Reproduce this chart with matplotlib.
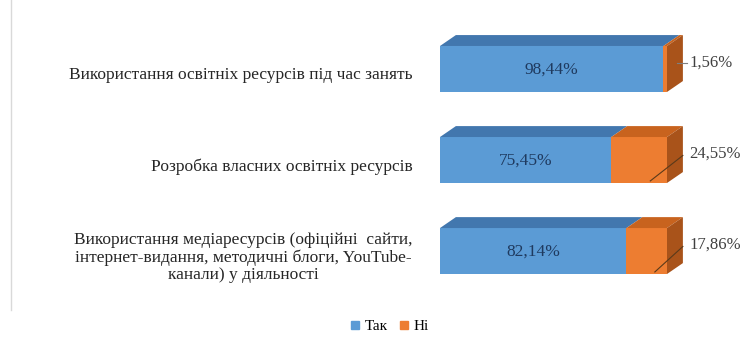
import matplotlib.pyplot as plt
from matplotlib.patches import Patch
from matplotlib.lines import Line2D

# data
categories = [
    'Використання освітніх ресурсів під час занять',
    'Розробка власних освітніх ресурсів',
    'Використання медіаресурсів (офіційні  сайти,\nінтернет-видання, методичні блоги, YouTube-\nканали) у діяльності',
]
tak = [98.44, 75.45, 82.14]
ni = [1.56, 24.55, 17.86]
tak_labels = ['98,44%', '75,45%', '82,14%']
ni_labels = ['1,56%', '24,55%', '17,86%']
series_names = ['Так', 'Ні']

plt.rcParams['font.family'] = ['Liberation Serif', 'DejaVu Serif']

blue_front, blue_top = '#5B9BD5', '#4277AE'
orange_front, orange_top, orange_side = '#ED7D31', '#C8631E', '#A9531A'

fig = plt.figure(figsize=(7.43, 3.49), dpi=100)
W, H = 743, 349
# axes: x 0..100 -> px 440..667, y px 20..300
ax = fig.add_axes([440 / W, 1 - 300 / H, 227 / W, 280 / H])
ax.set_xlim(0, 100)
ax.set_ylim(2.538, -0.538)
ax.axis('off')

h = 0.505   # bar height
dx = 7.0    # depth in x
dy = 0.12   # depth in y


def box(a, b, yc, front, top, side=None):
    yt, yb = yc - h / 2, yc + h / 2
    ax.fill([a, b, b, a], [yt, yt, yb, yb], color=front, lw=0, clip_on=False)
    ax.fill([a, b, b + dx, a + dx], [yt, yt, yt - dy, yt - dy],
            color=top, lw=0, clip_on=False)
    if side is not None:
        ax.fill([b, b + dx, b + dx, b], [yt, yt - dy, yb - dy, yb],
                color=side, lw=0, clip_on=False)


for i, cat in enumerate(categories):
    yc = i
    box(0, tak[i], yc, blue_front, blue_top)
    box(tak[i], tak[i] + ni[i], yc, orange_front, orange_top, orange_side)
    ax.text(tak[i] / 2, yc + 0.01, tak_labels[i], ha='center', va='center',
            fontsize=12.5, color='#1F3A5F', clip_on=False)
    # leader line + outside label
    if ni[i] < 5:
        ax.plot([100 + dx * 0.6, 109], [yc - 0.07, yc - 0.07],
                color='#7F7F7F', lw=0.8, clip_on=False)
    else:
        ax.plot([tak[i] + ni[i] * 0.7, 107], [yc + 0.23, yc - 0.05],
                color='#5A3A1A', lw=0.8, clip_on=False)
    ax.text(110.0, yc - 0.07, ni_labels[i], ha='left', va='center',
            fontsize=12, color='#404040', clip_on=False)
    ax.text(-11.9, yc + 0.07, cat, ha='right', va='center', fontsize=12.5,
            multialignment='center', color='#262626', clip_on=False,
            linespacing=1.12)

handles = [Patch(color=blue_front), Patch(color=orange_front)]
fig.legend(handles, series_names, loc='center', bbox_to_anchor=(0.525, 1 - 327 / H),
           ncol=2, frameon=False, fontsize=11, handlelength=0.5, handleheight=0.5,
           handletextpad=0.4, columnspacing=0.8)

fig.add_artist(Line2D([11 / W, 11 / W], [1 - 310 / H, 1.0],
                      color='#D9D9D9', lw=1))

fig.savefig('out.png', dpi=100)
